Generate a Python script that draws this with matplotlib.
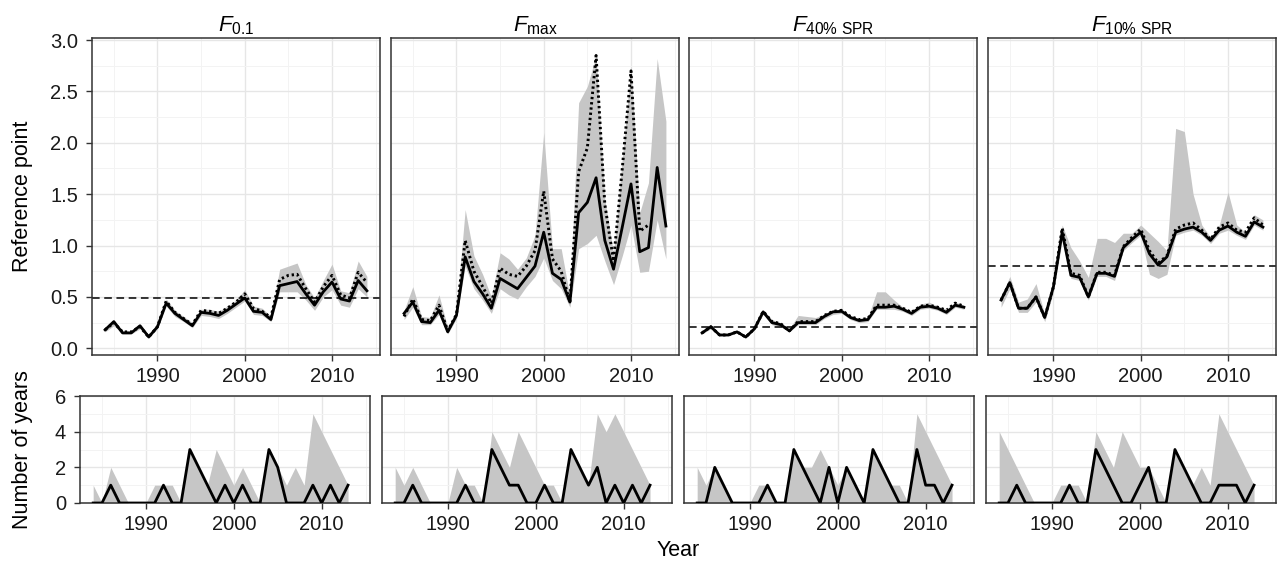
import numpy as np
import matplotlib
matplotlib.use('Agg')
import matplotlib.pyplot as plt
from matplotlib.ticker import MultipleLocator

plt.rcParams['font.family'] = ['Liberation Sans', 'DejaVu Sans']
plt.rcParams['mathtext.fontset'] = 'custom'
plt.rcParams['mathtext.rm'] = 'Liberation Sans'
plt.rcParams['mathtext.it'] = 'Liberation Sans:italic'

# ---- data ----
years = np.arange(1984, 2015)
count_years = np.arange(1984, 2014)

titles = [r'$\mathit{F}_{\mathrm{0.1}}$', r'$\mathit{F}_{\mathrm{max}}$',
          r'$\mathit{F}_{\mathrm{40\%\ SPR}}$', r'$\mathit{F}_{\mathrm{10\%\ SPR}}$']

# F0.1
f01_est = [0.18, 0.26, 0.15, 0.15, 0.22, 0.11, 0.21, 0.44, 0.34, 0.28, 0.22, 0.35, 0.34, 0.32, 0.37, 0.43,
           0.49, 0.36, 0.35, 0.28, 0.61, 0.63, 0.65, 0.53, 0.42, 0.55, 0.645, 0.48, 0.46, 0.66, 0.56]
f01_alt = [0.18, 0.25, 0.16, 0.16, 0.21, 0.11, 0.21, 0.46, 0.35, 0.29, 0.23, 0.37, 0.36, 0.34, 0.39, 0.45,
           0.53, 0.39, 0.36, 0.30, 0.67, 0.71, 0.72, 0.58, 0.45, 0.60, 0.71, 0.52, 0.49, 0.74, 0.64]
f01_lo = [0.16, 0.22, 0.14, 0.14, 0.19, 0.10, 0.19, 0.41, 0.31, 0.26, 0.20, 0.32, 0.31, 0.29, 0.34, 0.40,
          0.46, 0.33, 0.32, 0.26, 0.55, 0.55, 0.55, 0.47, 0.37, 0.50, 0.57, 0.42, 0.40, 0.58, 0.50]
f01_hi = [0.20, 0.27, 0.17, 0.17, 0.23, 0.13, 0.23, 0.48, 0.37, 0.31, 0.25, 0.38, 0.38, 0.36, 0.41, 0.47,
          0.57, 0.41, 0.39, 0.31, 0.77, 0.80, 0.83, 0.62, 0.49, 0.66, 0.82, 0.56, 0.54, 0.85, 0.70]

# Fmax
fmax_est = [0.34, 0.45, 0.26, 0.25, 0.37, 0.16, 0.32, 0.89, 0.65, 0.53, 0.39, 0.68, 0.63, 0.58, 0.69, 0.80,
            1.13, 0.73, 0.67, 0.45, 1.32, 1.42, 1.66, 1.05, 0.77, 1.18, 1.60, 0.94, 0.98, 1.76, 1.19]
fmax_alt = [0.31, 0.48, 0.28, 0.27, 0.42, 0.17, 0.33, 1.05, 0.75, 0.60, 0.44, 0.78, 0.72, 0.70, 0.80, 0.95,
            1.53, 0.87, 0.75, 0.45, 1.72, 1.95, 2.85, 1.40, 0.85, 1.75, 2.70, 1.14, 1.20, np.nan, np.nan]
fmax_lo = [0.28, 0.40, 0.23, 0.23, 0.33, 0.14, 0.29, 0.80, 0.58, 0.47, 0.34, 0.58, 0.52, 0.48, 0.60, 0.70,
           0.88, 0.66, 0.58, 0.40, 0.97, 1.02, 1.10, 0.85, 0.62, 0.90, 1.20, 0.74, 0.75, 1.25, 0.87]
fmax_hi = [0.37, 0.60, 0.31, 0.30, 0.52, 0.20, 0.37, 1.35, 0.90, 0.72, 0.50, 0.93, 0.87, 0.77, 0.88, 1.10,
           2.10, 0.97, 0.97, 0.50, 2.39, 2.55, 2.85, 1.45, 0.92, 1.85, 2.75, 1.32, 1.61, 2.82, 2.21]

# F40% SPR
f40_est = [0.15, 0.21, 0.13, 0.13, 0.16, 0.11, 0.19, 0.355, 0.25, 0.23, 0.17, 0.25, 0.25, 0.25, 0.31, 0.355,
           0.36, 0.30, 0.27, 0.28, 0.40, 0.40, 0.41, 0.38, 0.34, 0.40, 0.41, 0.39, 0.35, 0.42, 0.40]
f40_alt = [0.15, 0.21, 0.13, 0.13, 0.16, 0.11, 0.19, 0.36, 0.26, 0.24, 0.17, 0.26, 0.26, 0.26, 0.32, 0.36,
           0.37, 0.31, 0.28, 0.29, 0.42, 0.42, 0.42, 0.39, 0.35, 0.41, 0.42, 0.40, 0.37, 0.44, 0.41]
f40_lo = [0.14, 0.19, 0.12, 0.12, 0.15, 0.10, 0.18, 0.33, 0.23, 0.21, 0.16, 0.23, 0.23, 0.23, 0.29, 0.33,
          0.34, 0.28, 0.25, 0.26, 0.38, 0.38, 0.38, 0.36, 0.32, 0.38, 0.39, 0.37, 0.33, 0.40, 0.38]
f40_hi = [0.16, 0.22, 0.14, 0.14, 0.17, 0.12, 0.20, 0.37, 0.28, 0.25, 0.19, 0.32, 0.31, 0.30, 0.33, 0.37,
          0.38, 0.32, 0.29, 0.30, 0.55, 0.55, 0.47, 0.40, 0.36, 0.43, 0.45, 0.41, 0.38, 0.45, 0.42]

# F10% SPR
f10_est = [0.47, 0.64, 0.39, 0.39, 0.50, 0.30, 0.60, 1.13, 0.71, 0.69, 0.50, 0.73, 0.73, 0.70, 0.98, 1.06,
           1.13, 0.92, 0.81, 0.89, 1.13, 1.16, 1.18, 1.13, 1.05, 1.15, 1.19, 1.13, 1.09, 1.23, 1.18]
f10_alt = [0.47, 0.64, 0.39, 0.39, 0.50, 0.30, 0.60, 1.17, 0.73, 0.71, 0.50, 0.74, 0.74, 0.71, 0.99, 1.08,
           1.16, 0.95, 0.83, 0.90, 1.16, 1.20, 1.22, 1.15, 1.06, 1.18, 1.22, 1.15, 1.13, 1.27, 1.20]
f10_lo = [0.40, 0.58, 0.35, 0.35, 0.45, 0.26, 0.55, 1.05, 0.68, 0.66, 0.47, 0.70, 0.70, 0.66, 0.95, 1.03,
          1.10, 0.72, 0.68, 0.72, 1.10, 1.13, 1.15, 1.10, 1.02, 1.12, 1.15, 1.10, 1.06, 1.20, 1.15]
f10_hi = [0.50, 0.70, 0.45, 0.48, 0.63, 0.33, 0.65, 1.20, 0.98, 0.85, 0.69, 1.07, 1.07, 1.03, 1.12, 1.12,
          1.20, 1.12, 1.04, 0.95, 2.14, 2.11, 1.50, 1.20, 1.08, 1.20, 1.52, 1.20, 1.13, 1.30, 1.25]

# reference levels (dashed), none for Fmax
ref_levels = [0.49, None, 0.21, 0.80]

# number of years (bottom row): line and upper edge of grey band
n01 = [0, 0, 1, 0, 0, 0, 0, 0, 1, 0, 0, 3, 2, 1, 0, 1, 0, 1, 0, 0, 3, 2, 0, 0, 0, 1, 0, 1, 0, 1]
n01_hi = [1, 0, 2, 1, 0, 0, 0, 1, 1, 1, 0, 3, 2, 1, 3, 2, 1, 2, 1, 0, 3, 2, 1, 2, 1, 5, 4, 3, 2, 1]
nmax = [0, 0, 1, 0, 0, 0, 0, 0, 1, 0, 0, 3, 2, 1, 1, 0, 0, 1, 0, 0, 3, 2, 1, 2, 0, 1, 0, 1, 0, 1]
nmax_hi = [2, 1, 2, 1, 0, 0, 0, 2, 1, 1, 0, 4, 3, 2, 4, 3, 2, 1, 1, 0, 3, 2, 1, 5, 4, 5, 4, 3, 2, 1]
n40 = [0, 0, 2, 1, 0, 0, 0, 0, 1, 0, 0, 3, 2, 1, 0, 2, 0, 2, 1, 0, 3, 2, 1, 0, 0, 3, 1, 1, 0, 1]
n40_hi = [2, 1, 2, 1, 0, 0, 0, 1, 1, 0, 0, 3, 2, 2, 3, 2, 1, 2, 1, 0, 3, 2, 1, 1, 0, 5, 4, 3, 2, 1]
n10 = [0, 0, 1, 0, 0, 0, 0, 0, 1, 0, 0, 3, 2, 1, 0, 0, 1, 2, 0, 0, 3, 2, 1, 0, 0, 1, 1, 1, 0, 1]
n10_hi = [4, 3, 2, 1, 0, 0, 0, 1, 1, 1, 0, 4, 3, 2, 4, 3, 2, 2, 1, 0, 3, 2, 1, 2, 1, 5, 4, 3, 2, 1]

top_series = [(f01_est, f01_alt, f01_lo, f01_hi), (fmax_est, fmax_alt, fmax_lo, fmax_hi),
              (f40_est, f40_alt, f40_lo, f40_hi), (f10_est, f10_alt, f10_lo, f10_hi)]
bottom_series = [(n01, n01_hi), (nmax, nmax_hi), (n40, n40_hi), (n10, n10_hi)]

# ---- layout ----
W, H = 1277, 565
fig = plt.figure(figsize=(W / 100, H / 100), dpi=100)
band = '#c6c6c6'
frame = '#333333'


def px_axes(left, top, width, height):
    return fig.add_axes([left / W, 1 - (top + height) / H, width / W, height / H])


def style(ax):
    ax.set_facecolor('white')
    for s in ax.spines.values():
        s.set_color(frame)
        s.set_linewidth(1.1)
    ax.grid(which='major', color='#e6e6e6', lw=1.0, zorder=0)
    ax.grid(which='minor', color='#f3f3f3', lw=0.7, zorder=0)
    ax.set_axisbelow(True)
    ax.tick_params(which='major', length=4, width=1, color=frame, labelsize=14.5, labelcolor='#1a1a1a')
    ax.tick_params(axis='x', pad=5)
    ax.tick_params(axis='y', pad=6)
    ax.tick_params(which='minor', length=0)
    ax.xaxis.set_major_locator(MultipleLocator(10))
    ax.xaxis.set_minor_locator(MultipleLocator(5))
    ax.set_xlim(1982.5, 2015.5)


top_lefts = [92, 391, 689, 988]
bot_lefts = [80, 382, 684, 986]

for i in range(4):
    est, alt, lo, hi = top_series[i]
    ax = px_axes(top_lefts[i], 38, 288, 317)
    style(ax)
    ax.fill_between(years, lo, hi, color=band, lw=0, zorder=1)
    if ref_levels[i] is not None:
        ax.axhline(ref_levels[i], color='black', lw=1.1, dashes=(5, 3), zorder=2)
    ax.plot(years, alt, color='black', lw=2.1, ls=(0, (0.8, 1.0)), zorder=3)
    ax.plot(years, est, color='black', lw=2.0, zorder=4)
    ax.set_ylim(-0.065, 3.02)
    ax.yaxis.set_major_locator(MultipleLocator(0.5))
    ax.yaxis.set_minor_locator(MultipleLocator(0.25))
    ax.set_title(titles[i], fontsize=16, pad=5)
    if i == 0:
        ax.set_yticks([0, 0.5, 1.0, 1.5, 2.0, 2.5, 3.0])
        ax.set_yticklabels(['0.0', '0.5', '1.0', '1.5', '2.0', '2.5', '3.0'])
    else:
        ax.tick_params(axis='y', which='both', left=False, labelleft=False)

    n, n_hi = bottom_series[i]
    bx = px_axes(bot_lefts[i], 396, 290, 107)
    style(bx)
    bx.fill_between(count_years, 0, n_hi, color=band, lw=0, zorder=1)
    bx.plot(count_years, n, color='black', lw=2.0, zorder=3)
    bx.set_ylim(0, 6)
    bx.yaxis.set_major_locator(MultipleLocator(2))
    bx.yaxis.set_minor_locator(MultipleLocator(1))
    if i > 0:
        bx.tick_params(axis='y', which='both', left=False, labelleft=False)

fig.text(23 / W, 1 - 196 / H, 'Reference point', rotation=90, ha='center', va='center', fontsize=15.5)
fig.text(23 / W, 1 - 450 / H, 'Number of years', rotation=90, ha='center', va='center', fontsize=15.5)
fig.text(678 / W, 1 - 551 / H, 'Year', ha='center', va='center', fontsize=15.5)

fig.savefig('out.png', dpi=100, facecolor='white')
